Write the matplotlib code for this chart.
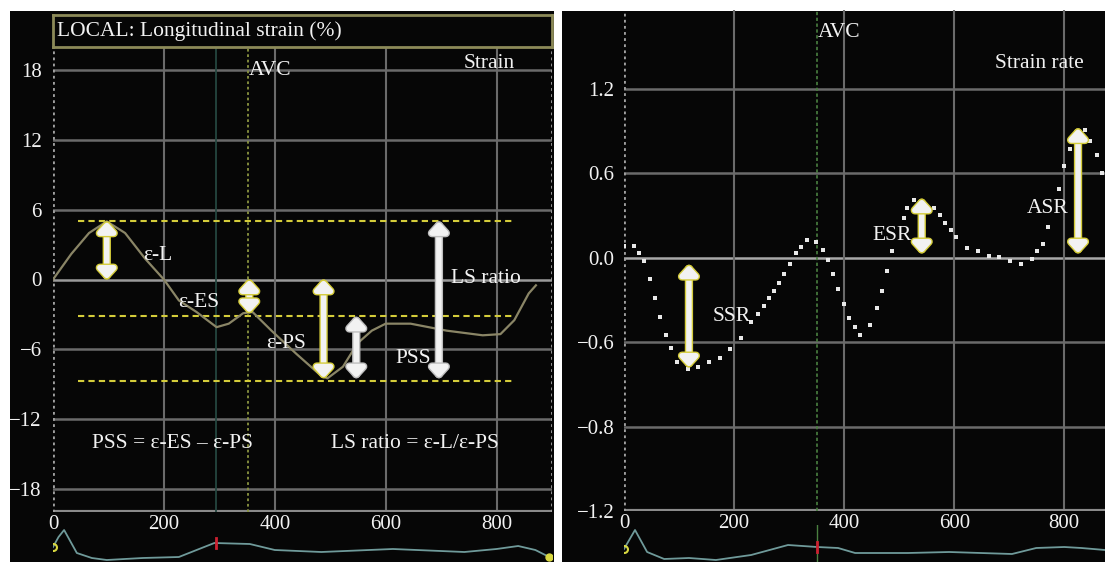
import matplotlib
matplotlib.use("Agg")
import matplotlib.pyplot as plt
import matplotlib.patheffects as pe
from matplotlib.patches import Rectangle

plt.rcParams['font.family'] = ['Liberation Serif', 'DejaVu Serif']

# ---- left panel: longitudinal strain (%) ----
strain_x = [0, 33, 65, 97, 130, 166, 200, 227, 259, 295, 317, 343, 360, 394, 439, 484, 495,
            523, 549, 575, 600, 645, 710, 775, 807, 832, 858, 871]
strain_y = [0.0, 2.2, 4.0, 5.0, 4.0, 1.8, 0.0, -1.8, -2.8, -4.1, -3.8, -2.9, -2.8, -4.4, -6.4, -8.3, -8.5,
            -7.5, -5.5, -4.4, -3.8, -3.8, -4.4, -4.8, -4.7, -3.5, -1.2, -0.5]
ref_levels = [5.0, -3.1, -8.7]          # yellow dashed reference levels
strain_ticks = [18, 12, 6, 0, -6, -12, -18]
strain_tick_labels = ['18', '12', '6', '0', '\u22126', '\u221212', '\u221218']
time_ticks = [0, 200, 400, 600, 800]

# arrows: x, y_start, y_end, yellow edge?
strain_arrows = [(97, 5.0, 0.0, True), (354, 0.0, -2.9, True), (488, 0.0, -8.5, True),
                 (547, -3.2, -8.5, False), (696, 5.0, -8.5, False)]
strain_labels = [(162, 2.1, '\u03b5-L', 'left'), (262, -2.0, '\u03b5-ES', 'center'),
                 (420, -5.5, '\u03b5-PS', 'center'), (650, -6.8, 'PSS', 'center'),
                 (718, 0.1, 'LS ratio', 'left'), (787, 18.6, 'Strain', 'center'),
                 (354, 18.0, 'AVC', 'left'),
                 (215, -14.1, 'PSS = \u03b5-ES \u2013 \u03b5-PS', 'center'),
                 (653, -14.1, 'LS ratio = \u03b5-L/\u03b5-PS', 'center')]

ecg1_x = [0, 10, 20, 30, 43, 70, 97, 162, 227, 291, 355, 400, 484, 613, 742, 800, 839, 870, 895]
ecg1_y = [0.8, 1.8, 2.5, 1.5, 0.2, -0.3, -0.5, -0.3, -0.2, 1.2, 1.1, 0.5, 0.3, 0.6, 0.3, 0.6, 0.9, 0.5, -0.2]

# ---- right panel: strain rate ----
sr_x = [0, 18, 28, 37, 47, 57, 66, 77, 86, 96, 117, 135, 155, 175, 193, 213, 231, 243, 254, 263,
        272, 282, 291, 301, 312, 322, 332, 349, 361, 370, 380, 389, 399, 409, 419, 429, 447, 459,
        468, 478, 487, 508, 515, 527, 564, 575, 584, 594, 603, 624, 644, 664, 682, 702, 722, 741,
        751, 761, 771, 790, 799, 811, 825, 838, 847, 860, 868]
sr_y = [0.085, 0.08, 0.033, -0.026, -0.15, -0.29, -0.42, -0.55, -0.64, -0.74, -0.79, -0.78, -0.74,
        -0.71, -0.65, -0.57, -0.46, -0.40, -0.34, -0.29, -0.24, -0.18, -0.114, -0.043, 0.033, 0.076,
        0.128, 0.11, 0.057, -0.014, -0.114, -0.22, -0.33, -0.43, -0.49, -0.55, -0.48, -0.36, -0.24,
        -0.097, 0.045, 0.28, 0.35, 0.41, 0.35, 0.305, 0.25, 0.20, 0.15, 0.069, 0.05, 0.014, 0.005,
        -0.026, -0.045, -0.009, 0.045, 0.097, 0.22, 0.49, 0.65, 0.77, 0.88, 0.91, 0.83, 0.73, 0.60]
sr_ticks = [1.2, 0.6, 0.0, -0.6, -1.2, -1.8]
sr_tick_labels = ['1.2', '0.6', '0.0', '\u22120.6', '\u22120.8', '\u22121.2']
sr_arrows = [(118, -0.05, -0.78, True), (541, 0.42, 0.03, True), (825, 0.92, 0.03, True)]
sr_labels = [(353, 1.6, 'AVC', 'left'), (755, 1.38, 'Strain rate', 'center'),
             (488, 0.16, 'ESR', 'center'), (770, 0.35, 'ASR', 'center'),
             (195, -0.42, 'SSR', 'center')]

ecg2_x = [0, 20, 42, 73, 118, 167, 231, 298, 351, 389, 420, 516, 591, 705, 749, 800, 831, 874]
ecg2_y = [0.6, 2.5, 0.3, -0.4, -0.3, -0.5, 0.0, 1.0, 0.8, 0.7, 0.2, 0.2, 0.3, 0.1, 0.7, 0.8, 0.7, 0.5]

W, H = 1105, 562
fig = plt.figure(figsize=(W / 100, H / 100), dpi=100, facecolor='white')

BG = '#060606'
GRID = '#6a6a6a'
WHITE = '#f2f2f2'
YEL = '#d4cc3a'
FS = 15.5

fig.patches.append(Rectangle((10 / W, 0), 544 / W, 551 / H, transform=fig.transFigure,
                             facecolor=BG, edgecolor='none', zorder=-10))
fig.patches.append(Rectangle((562 / W, 0), 543 / W, 551 / H, transform=fig.transFigure,
                             facecolor=BG, edgecolor='none', zorder=-10))


def px_axes(x0, y0, x1, y1):
    # pixel box (top-left origin) -> figure axes
    return fig.add_axes([x0 / W, (H - y1) / H, (x1 - x0) / W, (y1 - y0) / H])


def draw_arrow(ax, x, y0, y1, yellow, hw=0.5, hl=0.55):
    edge = YEL if yellow else '#bdbdbd'
    ax.annotate('', xy=(x, y1), xytext=(x, y0),
                arrowprops=dict(arrowstyle='<|-|>,head_length=%g,head_width=%g' % (hl, hw),
                                color=WHITE, lw=4, shrinkA=0, shrinkB=0,
                                path_effects=[pe.withStroke(linewidth=6, foreground=edge)]),
                zorder=6)


def style_axes(ax):
    ax.set_facecolor('none')
    for s in ax.spines.values():
        s.set_visible(False)
    ax.tick_params(length=0, colors=WHITE, labelsize=15)


# left strain axes
ax1 = px_axes(53, 47, 552, 512)
style_axes(ax1)
ax1.set_xlim(0, 900)
ax1.set_ylim(-20, 20)
ax1.set_yticks(strain_ticks)
ax1.set_yticklabels(strain_tick_labels)
ax1.set_xticks(time_ticks)
ax1.set_xticklabels([str(t) for t in time_ticks])
ax1.tick_params(axis='y', pad=8)
ax1.tick_params(axis='x', pad=2)
for t in strain_ticks:
    ax1.axhline(t, color='#9a9a9a' if t == 0 else GRID, lw=1.8, zorder=1)
for t in time_ticks[1:]:
    ax1.axvline(t, color=GRID, lw=1.5, zorder=1)
ax1.axhline(-20, color='#8a8a8a', lw=3, zorder=2)
ax1.axvline(0, color='#a0a0a0', lw=2, ls=(0, (1, 1.2)), zorder=2)
ax1.axvline(900, color='#a0a0a0', lw=2, ls=(0, (1, 1.2)), zorder=2)
ax1.axvline(294, color='#24463f', lw=1.3, zorder=2)
ax1.axvline(352, color='#8a9440', lw=1.3, ls=(0, (1.5, 1.5)), zorder=2)
for lvl in ref_levels:
    ax1.plot([45, 832], [lvl, lvl], color=YEL, lw=1.5, ls=(0, (3, 2)), zorder=3)
ax1.plot(strain_x, strain_y, color='#8a8566', lw=1.6, zorder=4)
for x, a, b, yel in strain_arrows:
    draw_arrow(ax1, x, a, b, yel)
for x, y, s, ha in strain_labels:
    ax1.text(x, y, s, color=WHITE, fontsize=FS, ha=ha, va='center', zorder=7)

# title box
tb = px_axes(53, 15, 552, 47)
tb.set_facecolor(BG)
tb.set_xticks([])
tb.set_yticks([])
for s in tb.spines.values():
    s.set_color('#8c8a58')
    s.set_linewidth(2)
tb.text(0.008, 0.5, 'LOCAL: Longitudinal strain (%)', color=WHITE, fontsize=FS,
        va='center', ha='left', transform=tb.transAxes)

# left ecg strip
e1 = px_axes(53, 525, 552, 562)
e1.axis('off')
e1.set_xlim(0, 900)
e1.set_ylim(-0.7, 3.0)
e1.plot(ecg1_x, ecg1_y, color='#6f9a9a', lw=1.3)
e1.plot([ecg1_x[0]], [ecg1_y[0]], 'o', ms=5, mfc='none', mec='#d8d840', mew=1.5)
e1.plot([ecg1_x[-1]], [ecg1_y[-1]], 'o', ms=5, mfc='#d8d840', mec='#d8d840')
e1.plot([294, 294], [0.7, 1.7], color='#cc2030', lw=2)

# right strain-rate axes
ax2 = px_axes(624, 10, 1105, 511)
style_axes(ax2)
ax2.set_xlim(0, 874)
ax2.set_ylim(-1.8, 1.76)
ax2.set_yticks(sr_ticks)
ax2.set_yticklabels(sr_tick_labels)
ax2.set_xticks(time_ticks)
ax2.set_xticklabels([str(t) for t in time_ticks])
ax2.tick_params(axis='y', pad=7)
ax2.tick_params(axis='x', pad=2)
for t in sr_ticks[:-1]:
    ax2.axhline(t, color='#a8a8a8' if t == 0 else GRID, lw=1.8, zorder=1)
for t in time_ticks[1:]:
    ax2.axvline(t, color=GRID, lw=1.5, zorder=1)
ax2.axhline(-1.8, color='#8a8a8a', lw=3, zorder=2)
ax2.axvline(0, color='#a0a0a0', lw=2, ls=(0, (1, 1.2)), zorder=2)
ax2.axvline(351, color='#4a8040', lw=1.2, ls=(0, (2, 1.5)), zorder=2)
ax2.scatter(sr_x, sr_y, s=5, marker='s', color='#e8e8e8', zorder=4, linewidths=0)
for x, a, b, yel in sr_arrows:
    draw_arrow(ax2, x, a, b, yel)
for x, y, s, ha in sr_labels:
    ax2.text(x, y, s, color=WHITE, fontsize=FS, ha=ha, va='center', zorder=7)

# right ecg strip
e2 = px_axes(624, 525, 1105, 562)
e2.axis('off')
e2.set_xlim(0, 874)
e2.set_ylim(-0.7, 3.0)
e2.plot(ecg2_x, ecg2_y, color='#6f9a9a', lw=1.3)
e2.plot([ecg2_x[0]], [ecg2_y[0]], 'o', ms=5, mfc='none', mec='#d8d840', mew=1.5)
e2.axvline(351, color='#4a8040', lw=1.0)
e2.plot([351, 351], [0.3, 1.3], color='#cc2030', lw=2)

fig.savefig('out.png', dpi=100, facecolor='white')
